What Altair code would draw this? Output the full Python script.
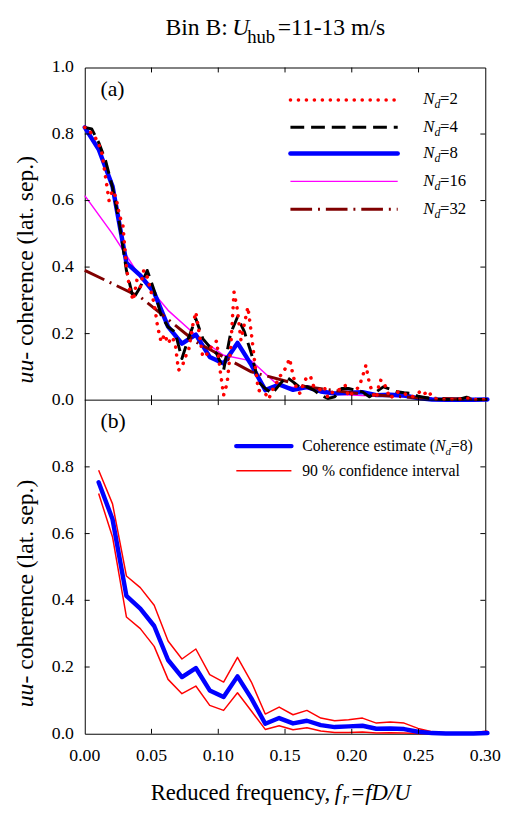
import altair as alt
import pandas as pd

# ---------------- data ----------------
F2 = [0.0, 0.0026, 0.0052, 0.0078, 0.0104, 0.013, 0.0156, 0.0182, 0.0208, 0.0234,
      0.026, 0.0286, 0.0312, 0.0338, 0.0364, 0.039, 0.0416, 0.0442, 0.0468, 0.0494,
      0.052, 0.0546, 0.0572, 0.0598, 0.0624, 0.065, 0.0676, 0.0702, 0.0728, 0.0754,
      0.078, 0.0806, 0.0832, 0.0858, 0.0884, 0.091, 0.0936, 0.0962, 0.0988, 0.1014,
      0.104, 0.1066, 0.1092, 0.1118, 0.1144, 0.117, 0.1196, 0.1222, 0.1248, 0.1274,
      0.13, 0.1326, 0.1352, 0.1378, 0.1404, 0.143, 0.1456, 0.1482, 0.1508, 0.1534,
      0.156, 0.1586, 0.1612, 0.1638, 0.1664, 0.169, 0.1716, 0.1742, 0.1768, 0.1794,
      0.182, 0.1846, 0.1872, 0.1898, 0.1924, 0.195, 0.1976, 0.2002, 0.2028, 0.2054,
      0.208, 0.2106, 0.2132, 0.2158, 0.2184, 0.221, 0.2236, 0.2262, 0.2288, 0.2314,
      0.234, 0.2366, 0.2392, 0.2418, 0.2444, 0.247, 0.2496, 0.2522, 0.2548, 0.2574,
      0.26, 0.2626, 0.2652, 0.2678, 0.2704, 0.273, 0.2756, 0.2782, 0.2808, 0.2834,
      0.286, 0.2886, 0.2912, 0.2938, 0.2964, 0.299, 0.3016]
V2 = [0.82, 0.815, 0.80, 0.79, 0.77, 0.74, 0.67, 0.60, 0.63, 0.61,
      0.555, 0.525, 0.40, 0.33, 0.30, 0.36, 0.34, 0.39, 0.37, 0.33,
      0.29, 0.22, 0.175, 0.198, 0.17, 0.19, 0.175, 0.09, 0.10, 0.13,
      0.155, 0.22, 0.265, 0.20, 0.13, 0.135, 0.155, 0.165, 0.178, 0.09,
      0.015, 0.05, 0.15, 0.325, 0.27, 0.18, 0.23, 0.28, 0.20, 0.11,
      0.03, 0.025, 0.02, 0.003, 0.03, 0.045, 0.07, 0.08, 0.10, 0.125,
      0.075, 0.035, 0.02, 0.05, 0.07, 0.072, 0.04, 0.035, 0.03, 0.04,
      0.008, 0.02, 0.03, 0.03, 0.035, 0.045, 0.01, 0.02, 0.03, 0.04,
      0.07, 0.105, 0.05, 0.02, 0.005, 0.06, 0.058, 0.03, 0.005, 0.015,
      0.025, 0.02, 0.02, 0.015, 0.01, 0.012, 0.02, 0.03, 0.02, 0.028,
      0.01, 0.004, 0.003, 0.002, 0.002, 0.002, 0.002, 0.002, 0.003, 0.004,
      0.005, 0.006, 0.002, 0.002, 0.002, 0.002, 0.002]

F4 = [0.0, 0.0052, 0.0104, 0.0156, 0.0208, 0.026, 0.0312, 0.0364, 0.0416, 0.0468,
      0.052, 0.0572, 0.0624, 0.0676, 0.0728, 0.078, 0.0832, 0.0884, 0.0936, 0.0988,
      0.104, 0.1092, 0.1144, 0.1196, 0.1248, 0.13, 0.1352, 0.1404, 0.1456, 0.1508,
      0.156, 0.1612, 0.1664, 0.1716, 0.1768, 0.182, 0.1872, 0.1924, 0.1976, 0.2028,
      0.208, 0.2132, 0.2184, 0.2236, 0.2288, 0.234, 0.2392, 0.2444, 0.2496, 0.2548,
      0.26, 0.2652, 0.2704, 0.2756, 0.2808, 0.286, 0.2912, 0.2964, 0.3016]
V4 = [0.82, 0.815, 0.775, 0.72, 0.64, 0.53, 0.39, 0.305, 0.34, 0.39,
      0.33, 0.255, 0.22, 0.205, 0.125, 0.19, 0.245, 0.185, 0.16, 0.14,
      0.09, 0.20, 0.25, 0.205, 0.14, 0.055, 0.035, 0.02, 0.045, 0.07,
      0.055, 0.038, 0.04, 0.03, 0.015, 0.005, 0.01, 0.035, 0.035, 0.03,
      0.025, 0.01, 0.025, 0.04, 0.033, 0.025, 0.022, 0.02, 0.012, 0.008,
      0.004, 0.003, 0.002, 0.002, 0.003, 0.009, 0.002, 0.002, 0.002]

F8A = [0.0, 0.0104, 0.0208, 0.0312, 0.0416, 0.052, 0.0624, 0.0728, 0.0832, 0.0936,
       0.104, 0.1144, 0.1248, 0.1352, 0.1456, 0.156, 0.1664, 0.1768, 0.1872, 0.1976,
       0.208, 0.2184, 0.2288, 0.2392, 0.2496, 0.26, 0.2704, 0.2808, 0.2912, 0.3016]
V8A = [0.82, 0.754, 0.643, 0.413, 0.375, 0.323, 0.221, 0.170, 0.197, 0.130,
       0.110, 0.172, 0.106, 0.030, 0.047, 0.031, 0.039, 0.026, 0.020, 0.022,
       0.024, 0.015, 0.016, 0.014, 0.006, 0.002, 0.001, 0.001, 0.001, 0.002]

F8 = [0.0104, 0.0208, 0.0312, 0.0416, 0.052, 0.0624, 0.0728, 0.0832, 0.0936, 0.104,
      0.1144, 0.1248, 0.1352, 0.1456, 0.156, 0.1664, 0.1768, 0.1872, 0.1976, 0.208,
      0.2184, 0.2288, 0.2392, 0.2496, 0.26, 0.2704, 0.2808, 0.2912, 0.3016]
V8 = [0.754, 0.643, 0.413, 0.375, 0.323, 0.221, 0.170, 0.197, 0.130, 0.110,
      0.172, 0.106, 0.030, 0.047, 0.031, 0.039, 0.026, 0.020, 0.022, 0.024,
      0.015, 0.016, 0.014, 0.006, 0.002, 0.001, 0.001, 0.001, 0.002]
UPPER = [0.79, 0.689, 0.473, 0.438, 0.385, 0.278, 0.224, 0.254, 0.177, 0.155,
         0.229, 0.155, 0.059, 0.080, 0.057, 0.070, 0.047, 0.039, 0.042, 0.047,
         0.032, 0.035, 0.032, 0.016, 0.006, 0.003, 0.003, 0.003, 0.008]
LOWER = [0.72, 0.59, 0.35, 0.315, 0.262, 0.163, 0.12, 0.143, 0.085, 0.07,
         0.123, 0.068, 0.013, 0.024, 0.012, 0.018, 0.008, 0.004, 0.004, 0.005,
         0.002, 0.003, 0.002, 0.001, 0.0, 0.0, 0.0, 0.0, 0.001]

F16 = [0.0, 0.0208, 0.0416, 0.0624, 0.0832, 0.104, 0.1248, 0.1456, 0.1664, 0.1872,
       0.208, 0.2288, 0.2496, 0.2704, 0.2912]
V16 = [0.615, 0.50, 0.37, 0.27, 0.195, 0.135, 0.118, 0.042, 0.035, 0.018,
       0.014, 0.012, 0.008, 0.003, 0.002]

F32 = [0.0, 0.0416, 0.0832, 0.1248, 0.1664, 0.208, 0.2496, 0.2912]
V32 = [0.39, 0.31, 0.175, 0.085, 0.04, 0.018, 0.007, 0.003]

X_TICKS = [0.05, 0.10, 0.15, 0.20, 0.25]
Y_TICKS = [0.2, 0.4, 0.6, 0.8]
X_LABELS = [0.0, 0.05, 0.10, 0.15, 0.20, 0.25, 0.30]
Y_LABELS_A = [0.0, 0.2, 0.4, 0.6, 0.8, 1.0]
Y_LABELS_B = [0.0, 0.2, 0.4, 0.6, 0.8]

# ---------------- layout / style ----------------
FONT = "Liberation Serif"
W = 407
HA = 338            # panel (a) height
H = 677             # both panels
TICK = 5
ONE = pd.DataFrame({"k": [0]})

XS = alt.Scale(domain=[0, 0.3], nice=False, zero=False)
YS_A = alt.Scale(domain=[0, 1.0], range=[HA, 0], nice=False, zero=False)
YS_B = alt.Scale(domain=[0, 1.0], range=[H, HA], nice=False, zero=False)


def X():
    return alt.X("f:Q", scale=XS, axis=None)


def Y(ys):
    return alt.Y("v:Q", scale=ys, axis=None)


def line(f, v, ys, color, width, dash=None, cap="butt"):
    kw = dict(color=color, strokeWidth=width, strokeCap=cap, strokeJoin="round")
    if dash:
        kw["strokeDash"] = dash
    return alt.Chart(pd.DataFrame({"f": f, "v": v})).mark_line(**kw).encode(x=X(), y=Y(ys))


def txt(s, x, y, size, style="normal", align="left", angle=0):
    kw = dict(font=FONT, fontSize=size, align=align, baseline="alphabetic", color="black")
    if style != "normal":
        kw["fontStyle"] = style
    if angle:
        kw["angle"] = angle
    return alt.Chart(ONE).mark_text(**kw).encode(
        x=alt.value(x), y=alt.value(y), text=alt.value(s))


def swatch(x1, x2, y, color, width, dash=None, cap="butt"):
    kw = dict(color=color, strokeWidth=width, strokeCap=cap)
    if dash:
        kw["strokeDash"] = dash
    return alt.Chart(ONE).mark_rule(**kw).encode(
        x=alt.value(x1), x2=alt.value(x2), y=alt.value(y))


def frame_ticks(ys, top, bottom):
    xt = pd.DataFrame({"f": X_TICKS})
    yt = pd.DataFrame({"v": Y_TICKS})
    out = []
    for y1, y2 in [(top, top + TICK), (bottom - TICK, bottom)]:
        out.append(alt.Chart(xt).mark_rule(color="black", strokeWidth=1).encode(
            x=X(), y=alt.value(y1), y2=alt.value(y2)))
    for x1, x2 in [(0, TICK), (W - TICK, W)]:
        out.append(alt.Chart(yt).mark_rule(color="black", strokeWidth=1).encode(
            y=Y(ys), x=alt.value(x1), x2=alt.value(x2)))
    return out


def ylabels(vals, ys):
    return alt.Chart(pd.DataFrame({"v": vals})).mark_text(
        font=FONT, fontSize=18, align="right", baseline="middle", color="black"
    ).encode(y=Y(ys), x=alt.value(-11), text=alt.Text("v:Q", format=".1f"))


STY = {
    "2": dict(color="#ff0000", width=3.6, dash=[0.1, 8], cap="round"),
    "4": dict(color="#000000", width=3.0, dash=[14, 7], cap="butt"),
    "8": dict(color="#0000ff", width=4.5, dash=None, cap="round"),
    "16": dict(color="#ff00ff", width=1.5, dash=None, cap="butt"),
    "32": dict(color="#800000", width=3.0, dash=[22, 6, 2, 6], cap="butt"),
}

layers = []

# ---------------- panel (a) ----------------
for key, f, v in [("16", F16, V16), ("8", F8A, V8A), ("32", F32, V32),
                  ("4", F4, V4), ("2", F2, V2)]:
    s = STY[key]
    layers.append(line(f, v, YS_A, s["color"], s["width"], s["dash"], s["cap"]))
layers += frame_ticks(YS_A, 0, HA)
layers.append(ylabels(Y_LABELS_A, YS_A))

for key, ry in [("2", 33), ("4", 60.7), ("8", 87.3), ("16", 115.7), ("32", 144)]:
    s = STY[key]
    layers.append(swatch(209, 318, ry, s["color"], s["width"], s["dash"], s["cap"]))
    layers.append(txt("N", 344, ry + 4.5, 17, "italic"))
    layers.append(txt("d", 355.5, ry + 8.5, 12, "italic"))
    layers.append(txt("=" + key, 361, ry + 4.5, 17))

layers.append(txt("(a)", 16, 29, 22))
layers.append(txt("Bin B: ", 82, -33, 24))
layers.append(txt("U", 150, -33, 24, "italic"))
layers.append(txt("hub", 165, -25, 19))
layers.append(txt("=11-13 m/s", 196, -33, 24))
layers.append(txt("uu", -53, 321, 24, "italic", angle=270))
layers.append(txt("- coherence (lat. sep.)", -53, 297, 24, angle=270))

# divider between the panels
layers.append(alt.Chart(ONE).mark_rule(color="black", strokeWidth=1).encode(
    x=alt.value(0), x2=alt.value(W), y=alt.value(HA)))

# ---------------- panel (b) ----------------
B = HA
layers.append(line(F8, UPPER, YS_B, "#ff0000", 1.5))
layers.append(line(F8, LOWER, YS_B, "#ff0000", 1.5))
layers.append(line(F8, V8, YS_B, "#0000ff", 4.5, None, "round"))
layers += frame_ticks(YS_B, HA, H)
layers.append(ylabels(Y_LABELS_B, YS_B))
layers.append(swatch(154, 210, B + 46.7, "#0000ff", 4.5, None, "round"))
layers.append(swatch(154, 210, B + 71.7, "#ff0000", 1.5))
layers.append(txt("Coherence estimate (", 221, B + 51.7, 16))
layers.append(txt("N", 356, B + 51.7, 16, "italic"))
layers.append(txt("d", 366.5, B + 55.7, 11, "italic"))
layers.append(txt("=8)", 372, B + 51.7, 16))
layers.append(txt("90 % confidence interval", 221, B + 77, 16))
layers.append(txt("(b)", 16, B + 28, 22))
layers.append(txt("uu", -53, B + 312, 24, "italic", angle=270))
layers.append(txt("- coherence (lat. sep.)", -53, B + 288, 24, angle=270))

# x tick labels and title
layers.append(alt.Chart(pd.DataFrame({"f": X_LABELS})).mark_text(
    font=FONT, fontSize=18, align="center", baseline="alphabetic", color="black"
).encode(x=X(), y=alt.value(H + 28), text=alt.Text("f:Q", format=".2f")))
XT_Y = H + 67
layers.append(txt("Reduced frequency, ", 67, XT_Y, 23))
layers.append(txt("f", 254, XT_Y, 23, "italic"))
layers.append(txt("r", 262, XT_Y + 4, 17, "italic"))
layers.append(txt("=", 271, XT_Y, 23))
layers.append(txt("fD/U", 285, XT_Y, 23, "italic"))

chart = alt.layer(*layers).resolve_scale(y="independent").properties(
    width=W, height=H,
    autosize=alt.AutoSizeParams(type="none"),
    padding={"left": 78, "top": 54, "right": 18, "bottom": 71},
    background="white",
).configure_view(stroke="black", strokeWidth=1)

chart.save("out.html", embed_options={"renderer": "svg", "actions": False})
